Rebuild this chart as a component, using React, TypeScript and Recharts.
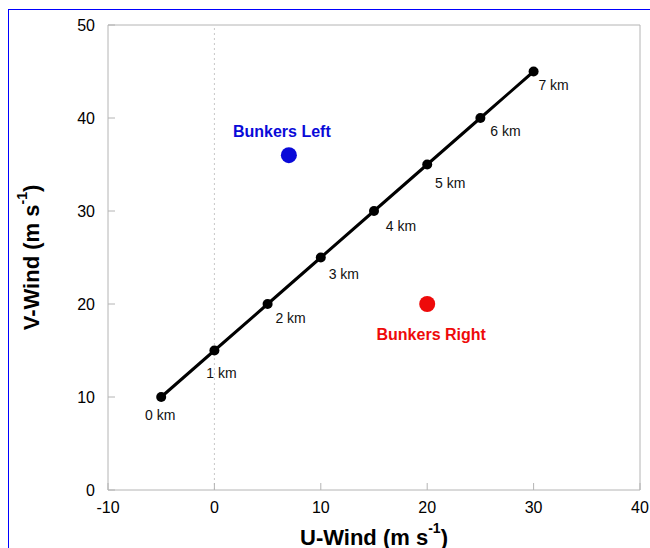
import React from 'react';
import {
  ScatterChart,
  Scatter,
  XAxis,
  YAxis,
  ReferenceLine,
  LabelList
} from 'recharts';

// hodograph points, 0 km to 7 km
const heights = ['0 km', '1 km', '2 km', '3 km', '4 km', '5 km', '6 km', '7 km'];
const uWind = [-5, 0, 5, 10, 15, 20, 25, 30];
const vWind = [10, 15, 20, 25, 30, 35, 40, 45];

const bunkersLeft = { u: 7, v: 36, name: 'Bunkers Left' };
const bunkersRight = { u: 20, v: 20, name: 'Bunkers Right' };

const xTicks = [-10, 0, 10, 20, 30, 40];
const yTicks = [0, 10, 20, 30, 40, 50];

const FONT = "Arial, 'Liberation Sans', sans-serif";
const BLUE = '#0a0ad8';
const RED = '#ee0a0a';
const FRAME = '#b4b4b4';

const hodo = heights.map((h, i) => ({ u: uWind[i], v: vWind[i], label: h }));

// where each height label sits relative to its point
const labelOffsets = [
  [-1, 18], [7, 22], [23, 14], [23, 16], [27, 15], [23, 18], [25, 13], [20, 13]
];

const KmLabel = (props: any) => {
  const { x, y, width, height, value, index } = props;
  const cx = x + (width || 0) / 2;
  const cy = y + (height || 0) / 2;
  const [dx, dy] = labelOffsets[index] || [20, 14];
  return (
    <text x={cx + dx} y={cy + dy} textAnchor="middle" dominantBaseline="central"
      fontSize={14} fontFamily={FONT} fill="#111">
      {value}
    </text>
  );
};

const dot = (r: number, fill: string) => (props: any) =>
  <circle cx={props.cx} cy={props.cy} r={r} fill={fill} />;

const AxisTitle = ({ text, x, y, rotate }: { text: string; x: number; y: number; rotate?: boolean }) => (
  <text x={x} y={y} textAnchor="middle" dominantBaseline="central"
    transform={rotate ? `rotate(-90 ${x} ${y})` : undefined}
    fontSize={22} fontWeight="bold" fontFamily={FONT} fill="#000">
    {text} (m s<tspan fontSize={14} dy={-9}>-1</tspan><tspan dy={9}>)</tspan>
  </text>
);

export default function App() {
  const tickStyle = { fontSize: 16, fill: '#000', fontFamily: FONT };
  return (
    <div style={{ position: 'absolute', left: 0, top: 0, width: 650, height: 548 }}>
      <div style={{
        position: 'absolute', left: 8, top: 9, width: 660, height: 560,
        borderLeft: '1.5px solid #0000ff', borderTop: '1.5px solid #0000ff'
      }} />
      <div style={{ position: 'absolute', left: 0, top: 0 }}>
        <ScatterChart width={650} height={548} margin={{ top: 24, right: 9, left: 0, bottom: 0 }}>
          <XAxis
            type="number"
            dataKey="u"
            domain={[-10, 40]}
            ticks={xTicks}
            allowDataOverflow
            height={58}
            stroke={FRAME}
            tickSize={-7}
            tickMargin={19}
            tick={tickStyle}
            label={({ viewBox }: any) => (
              <AxisTitle text="U-Wind" x={viewBox.x + viewBox.width / 2} y={viewBox.y + 47} />
            )}
          />
          <XAxis
            xAxisId="top"
            orientation="top"
            type="number"
            dataKey="u"
            domain={[-10, 40]}
            ticks={xTicks}
            allowDataOverflow
            height={1}
            stroke={FRAME}
            tickSize={-7}
            tick={false}
          />
          <YAxis
            type="number"
            dataKey="v"
            domain={[0, 50]}
            ticks={yTicks}
            allowDataOverflow
            width={108}
            stroke={FRAME}
            tickSize={-7}
            tickMargin={20}
            tick={tickStyle}
            label={({ viewBox }: any) => (
              <AxisTitle text="V-Wind" x={31} y={viewBox.y + viewBox.height / 2} rotate />
            )}
          />
          <YAxis
            yAxisId="right"
            orientation="right"
            type="number"
            dataKey="v"
            domain={[0, 50]}
            ticks={yTicks}
            allowDataOverflow
            width={1}
            stroke={FRAME}
            tickSize={-7}
            tick={false}
          />
          <ReferenceLine x={0} stroke="#c8c8c8" strokeDasharray="2 3" />
          {/* invisible series so the top and right frame axes get drawn */}
          <Scatter
            data={hodo}
            xAxisId="top"
            yAxisId="right"
            shape={() => <g />}
            legendType="none"
            isAnimationActive={false}
          />
          <Scatter
            data={hodo}
            line={{ stroke: '#000', strokeWidth: 3 }}
            lineType="joint"
            shape={dot(5, '#000')}
            isAnimationActive={false}
          >
            <LabelList dataKey="label" content={KmLabel} />
          </Scatter>
          <Scatter
            data={[bunkersLeft]}
            shape={dot(8, BLUE)}
            isAnimationActive={false}
          >
            <LabelList
              dataKey="name"
              content={(p: any) => (
                <text x={p.x + (p.width || 0) / 2 - 7} y={p.y + (p.height || 0) / 2 - 24}
                  textAnchor="middle" dominantBaseline="central" fontSize={16}
                  fontWeight="bold" fontFamily={FONT} fill={BLUE}>{p.value}</text>
              )}
            />
          </Scatter>
          <Scatter
            data={[bunkersRight]}
            shape={dot(8, RED)}
            isAnimationActive={false}
          >
            <LabelList
              dataKey="name"
              content={(p: any) => (
                <text x={p.x + (p.width || 0) / 2 + 4} y={p.y + (p.height || 0) / 2 + 30}
                  textAnchor="middle" dominantBaseline="central" fontSize={16}
                  fontWeight="bold" fontFamily={FONT} fill={RED}>{p.value}</text>
              )}
            />
          </Scatter>
        </ScatterChart>
      </div>
    </div>
  );
}
